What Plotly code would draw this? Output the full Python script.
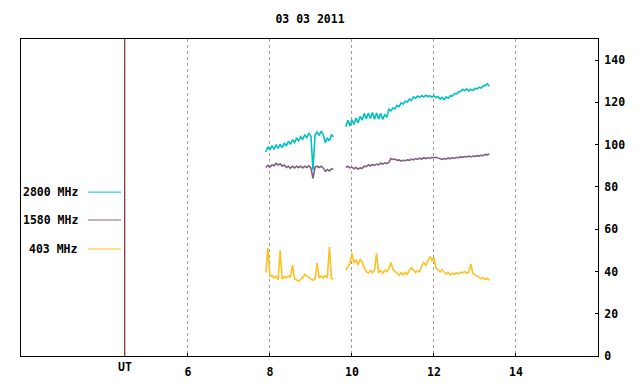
import plotly.graph_objects as go

# ---- data ----
title_text = "03 03 2011"
freq_labels = ["2800 MHz", "1580 MHz", "403 MHz"]
colors = ["#00c0c0", "#806080", "#ffc020"]

seg1_start, seg1_n = 7.90, 34
seg2_start, seg2_n = 9.85, 71
step = 0.05

cyan_seg1 = [96.5, 99.0, 97.5, 99.5, 97.8, 100.0, 98.2, 100.3, 98.6, 100.8,
             99.4, 101.6, 100.2, 102.4, 101.0, 103.0, 101.8, 103.8, 102.6, 104.6,
             103.4, 105.4, 104.0, 88.0, 104.6, 106.0, 104.4, 106.4, 104.8, 101.0,
             103.0, 101.8, 104.6, 103.8]
cyan_seg2 = [108.5, 111.5, 109.0, 111.8, 109.6, 112.6, 110.4, 113.4, 111.6, 114.8,
             112.2, 115.0, 112.4, 115.2, 112.0, 115.0, 112.2, 114.8, 112.0, 114.2,
             113.0, 116.8, 116.0, 117.4, 117.0, 118.6, 118.0, 119.8, 119.2, 120.6,
             120.2, 121.6, 121.0, 122.6, 122.0, 123.0, 122.4, 123.2, 122.6, 123.4,
             122.8, 123.2, 122.4, 123.2, 122.2, 122.8, 121.6, 122.4, 121.4, 122.6,
             122.0, 123.2, 123.0, 124.2, 124.0, 125.0, 125.2, 126.2, 125.6, 126.4,
             125.4, 126.2, 125.6, 126.6, 126.4, 127.2, 126.8, 127.8, 128.0, 128.8,
             127.6]

purple_seg1 = [89.2, 90.2, 89.4, 90.4, 90.0, 91.2, 90.4, 91.0, 89.8, 90.4,
               89.2, 89.8, 88.8, 89.8, 89.0, 89.8, 89.2, 89.8, 89.0, 89.8,
               89.2, 90.0, 89.0, 84.0, 89.4, 89.8, 89.2, 89.8, 89.0, 87.4,
               88.2, 87.6, 88.6, 88.4]
purple_seg2 = [89.2, 89.8, 89.0, 89.4, 88.6, 89.2, 88.4, 89.0, 88.8, 89.8,
               89.6, 90.4, 90.0, 90.6, 90.2, 90.8, 90.4, 91.2, 90.8, 91.4,
               91.0, 91.6, 93.4, 93.0, 93.2, 92.6, 92.8, 92.2, 92.6, 92.4,
               92.8, 92.6, 93.2, 92.8, 93.4, 93.0, 93.6, 93.2, 93.8, 93.4,
               93.8, 93.6, 94.0, 93.8, 94.0, 93.6, 93.4, 93.0, 93.4, 93.2,
               93.6, 93.4, 93.8, 93.6, 94.0, 93.8, 94.2, 94.0, 94.4, 94.2,
               94.6, 94.2, 94.6, 94.4, 94.8, 94.6, 95.0, 94.8, 95.4, 95.2,
               95.6]

gold_seg1 = [39.5, 51.0, 37.4, 38.2, 37.0, 37.8, 36.0, 50.0, 36.4, 37.6,
             37.0, 38.0, 37.2, 43.0, 36.6, 35.8, 35.4, 36.4, 37.2, 38.6,
             38.0, 37.4, 36.4, 35.8, 36.6, 44.0, 37.0, 37.8, 37.0, 38.0,
             37.0, 51.5, 36.6, 36.4]
gold_seg2 = [40.6, 42.6, 43.8, 48.5, 44.0, 45.6, 43.2, 45.8, 44.4, 41.8,
             40.0, 39.2, 40.4, 39.4, 40.6, 48.6, 39.4, 40.4, 39.2, 40.6,
             39.8, 41.4, 44.2, 41.0, 40.0, 38.8, 38.2, 39.4, 38.4, 39.6,
             38.6, 40.6, 41.8, 40.6, 39.6, 40.4, 39.8, 42.6, 44.2, 42.8,
             44.8, 47.0, 45.2, 46.6, 41.6, 40.8, 39.8, 40.8, 39.6, 38.8,
             39.6, 38.4, 39.2, 38.6, 39.4, 38.8, 39.6, 39.4, 40.0, 39.2,
             39.8, 43.6, 39.0, 38.4, 37.6, 37.2, 36.6, 37.0, 36.2, 36.8,
             35.8]

x_tickvals = [6, 8, 10, 12, 14]
x_ticktext = ["6", "8", "10", "12", "14"]
y_tickvals = [0, 20, 40, 60, 80, 100, 120, 140]
ut_hour = 4.46
x_range = [1.93, 16.0]
y_range = [0, 150]

# ---- build ----
t1 = [round(seg1_start + step * i, 3) for i in range(seg1_n)]
t2 = [round(seg2_start + step * i, 3) for i in range(seg2_n)]
times = t1 + [None] + t2

series = [cyan_seg1 + [None] + cyan_seg2,
          purple_seg1 + [None] + purple_seg2,
          gold_seg1 + [None] + gold_seg2]

FONT = dict(family="DejaVu Sans Mono", size=11.5, color="black", weight="bold")

fig = go.Figure()
for name, vals, col in zip(freq_labels, series, colors):
    fig.add_trace(go.Scatter(x=times, y=vals, mode="lines", name=name,
                             line=dict(color=col, width=1.6), connectgaps=False,
                             showlegend=False))

# legend drawn manually at left
leg_y = [0.517, 0.429, 0.3375]
for name, col, yy in zip(freq_labels, colors, leg_y):
    fig.add_annotation(text=name, xref="paper", yref="paper", x=0.1023, y=yy,
                       xanchor="right", yanchor="middle", showarrow=False, font=FONT)
    fig.add_shape(type="line", xref="paper", yref="paper", x0=0.116, x1=0.1733,
                  y0=yy, y1=yy, line=dict(color=col, width=1))

# UT separator line
fig.add_shape(type="line", xref="x", yref="y domain", x0=ut_hour, x1=ut_hour,
              y0=0, y1=1, line=dict(color="#600000", width=1))
fig.add_annotation(text="UT", xref="x", yref="paper", x=ut_hour, y=0,
                   xanchor="center", yanchor="top", yshift=-2, showarrow=False, font=FONT)

fig.update_layout(
    width=640, height=384,
    margin=dict(l=13, r=50, t=31, b=36, autoexpand=False),
    paper_bgcolor="white", plot_bgcolor="white",
    title=dict(text=title_text, x=0.4719, xanchor="center", y=0.9714, yanchor="middle",
               font=FONT),
    font=FONT,
)
fig.update_xaxes(range=x_range, tickvals=x_tickvals, ticktext=x_ticktext,
                 ticks="inside", ticklen=3, tickcolor="black", automargin=False,
                 showline=True, linecolor="black", linewidth=1, mirror=True,
                 showgrid=True, gridcolor="#a0a0a0", griddash="dot", gridwidth=1,
                 zeroline=False, tickfont=FONT, ticklabelstandoff=5)
fig.update_yaxes(range=y_range, tickvals=y_tickvals, side="right",
                 ticks="inside", ticklen=3, tickcolor="black", automargin=False,
                 showline=True, linecolor="black", linewidth=1, mirror=True,
                 showgrid=False, zeroline=False, tickfont=FONT, ticklabelstandoff=3)

fig.write_html("out.html")
